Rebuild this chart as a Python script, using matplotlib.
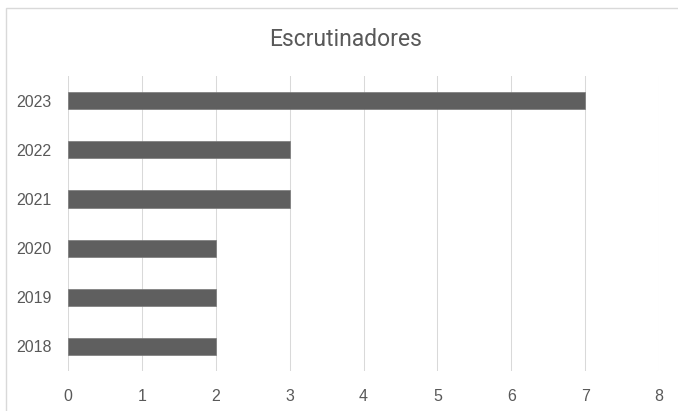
import matplotlib.pyplot as plt
from matplotlib.patches import Rectangle

# Datos
years = ['2018', '2019', '2020', '2021', '2022', '2023']
values = [2, 2, 2, 3, 3, 7]
xticks = [0, 1, 2, 3, 4, 5, 6, 7, 8]

text_color = '#595959'
grid_color = '#d9d9d9'

fig = plt.figure(figsize=(6.78, 4.11), dpi=100)
ax = fig.add_axes([0.1003, 0.0973, 0.8717, 0.7177])

ax.barh(years, values, height=0.35, color='#5f5f5f', edgecolor='#7a7a7a', linewidth=0.5, zorder=3)

ax.set_xlim(0, 8)
ax.set_ylim(-0.5, 5.5)
ax.set_xticks(xticks)
ax.grid(axis='x', color=grid_color, linewidth=0.75, zorder=0)
ax.grid(axis='y', visible=False)

for s in ax.spines.values():
    s.set_visible(False)

ax.tick_params(axis='both', length=0, labelsize=11.5, labelcolor=text_color)
ax.tick_params(axis='y', pad=12)
ax.tick_params(axis='x', pad=13)
for lab in ax.get_xticklabels() + ax.get_yticklabels():
    lab.set_family('Liberation Sans')

fig.text(0.51, 0.903, 'Escrutinadores', ha='center', va='center',
         fontsize=16.5, color=text_color, family='Roboto')

# Borde del área del gráfico
fig.patches.append(Rectangle((5.5 / 678, -0.1), 1.2, 1 - 8 / 411 + 0.1,
                             transform=fig.transFigure, fill=False,
                             edgecolor=grid_color, linewidth=1))

fig.savefig('out.png', dpi=100)
